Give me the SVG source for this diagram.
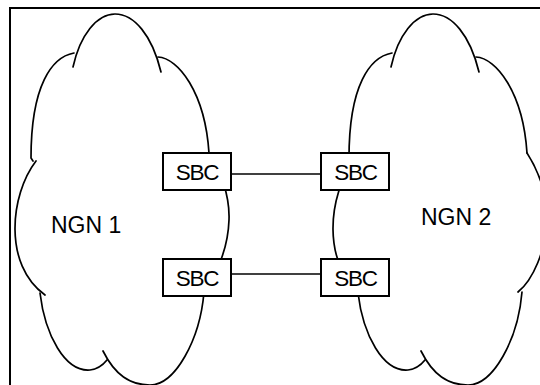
<svg xmlns="http://www.w3.org/2000/svg" xmlns:xlink="http://www.w3.org/1999/xlink" width="540" height="385" viewBox="0 0 540 385">
<style>
.cloud{fill:none;stroke:#000;stroke-width:1.7;stroke-linecap:round}
.box{fill:#fff;stroke:#000;stroke-width:2}
.conn{stroke:#000;stroke-width:1.3;fill:none}
.lbl{font-family:"Liberation Sans",Arial,sans-serif;font-size:23px;fill:#000}
.sbc{font-family:"Liberation Sans",Arial,sans-serif;font-size:22.5px;letter-spacing:-1.3px;fill:#000;text-anchor:middle}
</style>
<defs>
<g id="cloud">
<path class="cloud" d="M73,67 C80,35 97,14 115,14 C134,14 152,35 161,72"/>
<path class="cloud" d="M158,57 C178,58 205,92 209,153"/>
<path class="cloud" d="M209,153 C220,170 230,195 229,220 C228,250 215,280 200,292"/>
<path class="cloud" d="M103,351 C115,375 130,385 150,385 C175,385 200,340 204,292"/>
<path class="cloud" d="M40,293 C45,335 65,372 90,370 C98,369 103,365 107,360"/>
<path class="cloud" d="M36,161 C10,195 3,265 45,295"/>
<path class="cloud" d="M74,53 C52,57 31,85 31,158 L33,161"/>
</g>
</defs>
<rect x="10" y="8" width="540" height="390" fill="#fff" stroke="#000" stroke-width="2"/>
<g id="ngn1">
<use xlink:href="#cloud"/>
<text class="lbl" x="51" y="233">NGN 1</text>
</g>
<g id="ngn2">
<use xlink:href="#cloud" transform="translate(318,0)"/>
<text class="lbl" x="421" y="225">NGN 2</text>
</g>
<g id="connectors">
<line class="conn" x1="231" y1="174" x2="321" y2="174"/>
<line class="conn" x1="231" y1="274" x2="321" y2="274"/>
</g>
<g id="sbc1">
<rect class="box" x="163" y="153" width="68" height="37"/>
<text class="sbc" x="197" y="180">SBC</text>
</g>
<g id="sbc2">
<rect class="box" x="163" y="259" width="68" height="37"/>
<text class="sbc" x="197" y="286">SBC</text>
</g>
<g id="sbc3">
<rect class="box" x="321" y="153" width="68" height="37"/>
<text class="sbc" x="355.5" y="180">SBC</text>
</g>
<g id="sbc4">
<rect class="box" x="321" y="259" width="68" height="37"/>
<text class="sbc" x="355.5" y="286">SBC</text>
</g>
</svg>
